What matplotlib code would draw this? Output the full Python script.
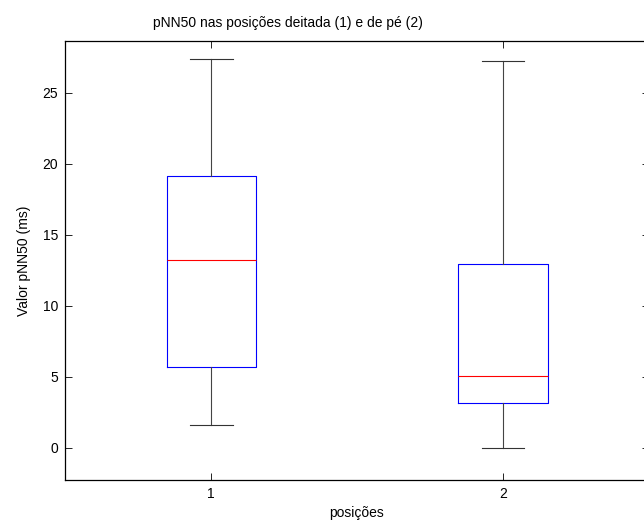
import matplotlib
matplotlib.use('Agg')
import matplotlib.pyplot as plt

plt.rcParams['font.family'] = ['Liberation Sans', 'DejaVu Sans']

# --- Data ---
positions = [1, 2]
tick_labels = ['1', '2']
whisker_low = [1.6, 0.0]
q1 = [5.7, 3.15]
medians = [13.2, 5.05]
q3 = [19.15, 12.97]
whisker_high = [27.4, 27.24]

stats = []
for i in range(len(positions)):
    stats.append({
        'whislo': whisker_low[i], 'q1': q1[i], 'med': medians[i],
        'q3': q3[i], 'whishi': whisker_high[i], 'fliers': [],
    })

fig = plt.figure(figsize=(6.44, 5.24), dpi=100)
# axes run a little past the right edge of the picture (as in the reference)
ax = fig.add_axes([0.101, 0.084, 0.9068, 0.8378])

ax.bxp(stats, positions=positions, widths=0.305, showfliers=False,
       boxprops=dict(color='blue', linewidth=0.8),
       medianprops=dict(color='red', linewidth=0.8),
       whiskerprops=dict(color='#444444', linewidth=0.8),
       capprops=dict(color='#333333', linewidth=0.8),
       capwidths=0.147)

ax.set_xlim(0.5, 2.5)
ax.set_ylim(-2.28, 28.65)
ax.set_xticks(positions)
ax.set_xticklabels(tick_labels)
ax.set_yticks([0, 5, 10, 15, 20, 25])

ax.tick_params(direction='in', length=5, width=0.6, labelsize=10,
               top=True, right=True, pad=5)
for s in ax.spines.values():
    s.set_linewidth(0.9)

ax.set_title('pNN50 nas posições deitada (1) e de pé (2)', fontsize=10,
             pad=10, x=0.382)
ax.set_xlabel('posições', fontsize=10, labelpad=4)
ax.set_ylabel('Valor pNN50 (ms)', fontsize=10, labelpad=8)

fig.savefig('out.png', dpi=100)
